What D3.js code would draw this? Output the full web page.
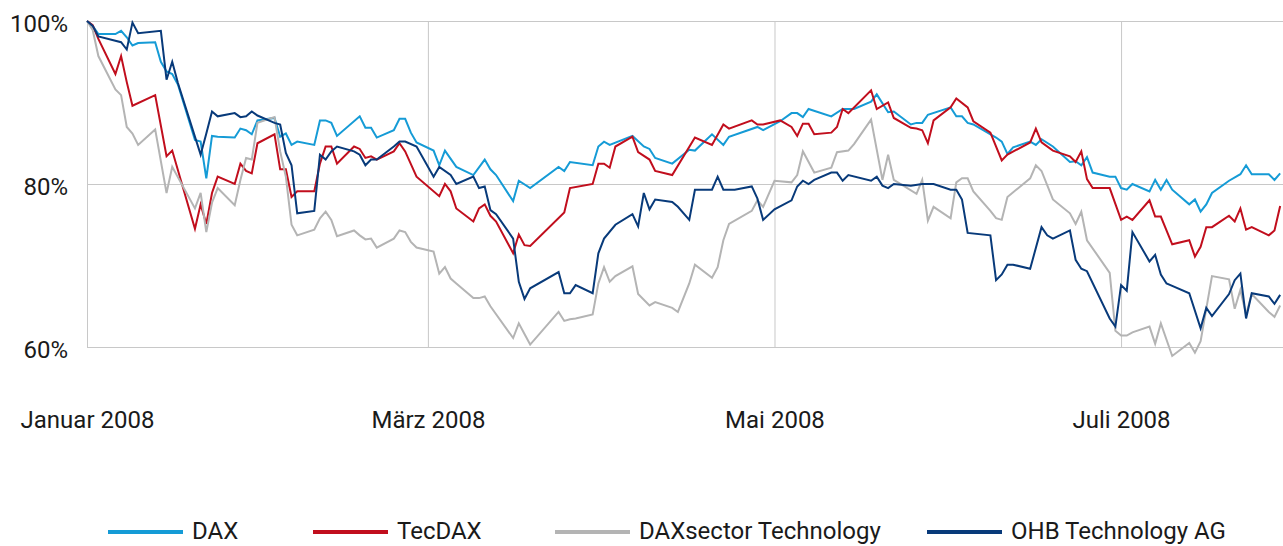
<!DOCTYPE html>
<html>
<head>
<meta charset="utf-8">
<script src="https://cdn.jsdelivr.net/npm/d3@7"></script>
<style>
body { margin: 0; background: #fff; }
text { font-family: Roboto, sans-serif; fill: #1a1a1a; }
</style>
</head>
<body>
<svg id="chart" width="1283" height="546"></svg>
<script>
// [days since 1 Jan 2008, index value in %]
var DAX = [[0,100],[1,99.4],[2,98.4],[5,98.4],[6,98.8],[7,98.0],[8,97.0],[9,97.3],[12,97.4],[13,95.0],[14,93.8],[15,93.5],[16,92.2],[19,85.4],[20,85.2],[21,80.7],[22,85.9],[23,85.8],[26,85.7],[27,86.8],[28,86.6],[29,86.1],[30,87.8],[33,88.1],[34,85.8],[35,86.2],[36,84.8],[37,85.2],[40,84.8],[41,87.8],[42,87.8],[43,87.5],[44,85.9],[48,88.3],[49,86.9],[50,86.9],[51,85.7],[54,86.6],[55,88.0],[56,88.0],[57,86.3],[58,85.1],[61,84.1],[62,82.3],[63,84.1],[65,82.1],[68,81.1],[70,83.0],[71,81.8],[72,81.1],[75,77.9],[76,80.4],[78,79.5],[83,82.1],[84,81.6],[85,82.7],[89,82.3],[90,84.6],[91,85.2],[92,84.8],[96,85.9],[98,84.6],[99,84.3],[100,83.2],[103,82.5],[106,84.2],[107,84.1],[110,86.1],[112,84.8],[113,85.8],[118,87.0],[119,86.6],[122,87.7],[124,88.7],[125,88.7],[126,88.2],[127,89.2],[131,88.3],[133,89.2],[135,89.2],[138,90.1],[139,91.0],[141,88.8],[142,88.9],[145,87.3],[146,87.5],[147,87.5],[148,88.5],[152,89.4],[153,88.3],[154,88.3],[155,87.5],[156,87.3],[160,85.7],[161,85.2],[162,83.7],[163,84.5],[166,85.2],[167,84.8],[168,85.5],[170,84.6],[173,82.7],[174,82.8],[175,82.3],[176,83.3],[177,81.4],[180,80.9],[181,80.9],[182,79.5],[183,79.3],[184,80.0],[187,79.1],[188,80.5],[189,79.3],[190,80.5],[191,79.3],[194,77.5],[195,78.1],[196,76.6],[197,77.5],[198,78.9],[201,80.4],[203,81.2],[204,82.3],[205,81.2],[208,81.2],[209,80.5],[210,81.3]];

var TECDAX = [[0,100],[1,99.5],[2,97.8],[5,93.5],[6,95.7],[7,92.5],[8,89.6],[12,90.9],[14,83.4],[15,84.1],[19,74.5],[20,77.5],[21,75.1],[22,78.9],[23,80.9],[26,80.0],[27,82.5],[28,81.6],[29,81.3],[30,85.0],[33,86.1],[34,81.8],[35,81.8],[36,78.4],[37,79.1],[40,79.1],[41,82.5],[42,84.6],[43,84.6],[44,82.5],[47,84.6],[48,84.3],[49,83.2],[50,83.4],[51,83.0],[54,84.0],[55,85.0],[56,84.0],[58,80.9],[62,78.5],[63,80.0],[64,79.1],[65,77.0],[68,75.4],[69,77.0],[70,77.5],[71,76.1],[72,75.4],[75,71.5],[76,73.8],[77,72.5],[78,72.4],[84,76.5],[85,79.5],[89,80.0],[90,82.5],[91,82.5],[92,82.0],[93,84.6],[96,85.8],[97,83.9],[99,83.0],[100,81.6],[103,81.1],[107,85.7],[110,84.8],[112,87.3],[113,86.8],[117,87.8],[118,87.3],[119,87.3],[122,87.8],[124,87.0],[125,85.9],[126,87.4],[127,87.4],[128,86.1],[131,86.3],[132,87.0],[133,89.2],[134,88.7],[138,91.5],[139,89.2],[141,90.0],[142,88.1],[145,86.9],[146,86.8],[147,86.6],[148,85.0],[149,87.8],[152,89.4],[153,90.5],[155,89.4],[156,87.7],[159,86.3],[161,82.9],[162,83.6],[166,85.1],[167,86.8],[168,85.1],[170,84.1],[173,83.4],[174,82.7],[175,84.0],[176,80.6],[177,79.5],[180,79.5],[182,75.6],[183,76.0],[184,75.6],[187,78.0],[188,76.0],[189,76.0],[191,72.6],[194,73.1],[195,71.1],[196,72.3],[197,74.7],[198,74.7],[201,76.1],[202,75.4],[203,77.0],[204,74.4],[205,74.7],[208,73.7],[209,74.3],[210,77.3]];

var DAXSECTOR = [[0,100],[1,98.9],[2,95.7],[5,91.6],[6,90.9],[7,87.0],[8,86.2],[9,84.8],[12,86.7],[14,78.9],[15,82.1],[19,77.0],[20,78.9],[21,74.1],[22,77.7],[23,79.5],[26,77.4],[27,80.5],[28,83.2],[29,83.0],[30,87.5],[33,88.2],[34,84.0],[35,80.9],[36,75.0],[37,73.7],[40,74.4],[41,75.8],[42,76.6],[43,75.6],[44,73.6],[47,74.3],[48,73.7],[49,73.2],[50,73.3],[51,72.2],[54,73.3],[55,74.3],[56,74.1],[57,72.9],[58,72.2],[61,71.7],[62,69.0],[63,69.8],[64,68.4],[65,67.8],[68,66.0],[69,66.0],[70,66.2],[71,65.0],[75,61.1],[76,62.9],[77,61.6],[78,60.3],[83,64.3],[84,63.2],[85,63.4],[86,63.5],[89,64.0],[90,67.8],[91,69.8],[92,68.0],[93,68.7],[96,69.9],[97,66.5],[99,65.1],[100,65.5],[103,64.8],[104,64.3],[106,67.8],[107,70.1],[110,68.5],[111,69.8],[112,73.1],[113,75.1],[117,76.7],[118,78.0],[119,77.2],[121,80.4],[124,80.2],[125,81.1],[126,84.0],[128,81.4],[131,82.0],[132,83.9],[134,84.1],[135,84.9],[138,87.9],[140,80.5],[141,83.6],[142,80.5],[146,78.8],[147,80.5],[148,75.5],[149,77.2],[152,75.8],[153,80.2],[154,80.7],[155,80.7],[156,79.1],[159,76.7],[160,75.8],[161,75.6],[162,78.4],[166,80.7],[167,82.3],[168,81.6],[170,78.1],[173,76.4],[174,75.1],[175,76.6],[176,73.1],[180,69.1],[181,62.0],[182,61.4],[183,61.4],[184,61.8],[187,62.5],[188,60.4],[189,62.9],[191,58.9],[194,60.5],[195,59.3],[196,60.7],[198,68.7],[201,68.3],[202,64.7],[203,67.0],[204,64.0],[205,66.5],[208,64.3],[209,63.7],[210,65.1]];

var OHB = [[0,100],[1,99.4],[2,98.1],[6,97.4],[7,96.5],[8,99.8],[9,98.5],[13,98.8],[14,92.8],[15,95.0],[16,92.4],[20,83.6],[21,86.2],[22,88.9],[23,88.3],[26,88.7],[27,88.2],[28,88.3],[29,88.9],[30,88.4],[33,87.5],[34,87.3],[35,83.8],[36,82.3],[37,76.4],[40,76.7],[41,83.6],[42,83.0],[43,84.0],[44,84.6],[47,84.0],[48,83.6],[49,82.3],[50,83.0],[51,83.0],[54,84.6],[55,85.2],[56,85.2],[58,84.6],[61,80.9],[62,82.1],[64,81.1],[65,80.0],[68,80.9],[69,79.5],[70,79.7],[71,76.8],[72,76.3],[75,73.3],[76,68.0],[77,65.9],[78,67.2],[83,69.2],[84,66.6],[85,66.6],[86,67.6],[89,66.6],[90,71.5],[91,73.3],[93,75.0],[96,76.3],[97,74.8],[98,78.9],[99,76.9],[100,78.1],[103,77.8],[104,77.2],[106,75.6],[107,79.3],[110,79.3],[111,80.9],[112,79.3],[114,79.3],[117,79.7],[118,78.2],[119,75.6],[121,76.9],[124,78.0],[125,79.7],[126,80.4],[127,80.0],[128,80.5],[131,81.4],[132,81.4],[133,80.4],[134,81.1],[138,80.4],[139,80.9],[140,79.8],[141,79.5],[142,80.0],[145,79.8],[147,80.0],[149,80.0],[152,79.3],[153,79.3],[154,78.1],[155,74.0],[159,73.7],[160,68.2],[161,68.9],[162,70.1],[163,70.1],[166,69.6],[168,74.7],[169,73.7],[170,73.3],[173,74.3],[174,70.7],[175,69.6],[176,69.3],[180,63.5],[181,62.5],[182,67.6],[183,66.9],[184,74.1],[187,70.5],[188,71.3],[189,68.9],[190,67.8],[191,67.5],[194,66.6],[196,62.3],[197,64.8],[198,63.8],[201,66.5],[202,68.2],[203,69.0],[204,63.5],[205,66.6],[208,66.2],[209,65.3],[210,66.4]];

var SERIES_NAMES = ['DAX', 'TecDAX', 'DAXsector Technology', 'OHB Technology AG'];
var Y_TICKS = [60, 80, 100];
var X_TICK_LABELS = ['Januar 2008', 'März 2008', 'Mai 2008', 'Juli 2008'];
var X_TICK_MONTHS = [0, 2, 4, 6];

var COLORS = ['#159bd6', '#c10e1d', '#b4b4b4', '#083a7a'];
var GRID = '#c8c8c8';
var FONT_SIZE = '24px';

var START = Date.UTC(2008, 0, 1);
function toDate(day){ return new Date(START + day * 864e5); }

var svg = d3.select('#chart');
var plotLeft = 87, plotRight = 1283, plotTop = 21, plotBottom = 347;

var x = d3.scaleUtc()
  .domain([toDate(0), toDate(210.5)])
  .range([plotLeft, plotRight]);

var y = d3.scaleLinear()
  .domain([60, 100])
  .range([plotBottom, plotTop]);

function drawAxes(){
  var yAxis = svg.append('g')
    .attr('transform', 'translate(' + plotLeft + ',0)')
    .call(d3.axisLeft(y)
      .tickValues(Y_TICKS)
      .tickSize(-(plotRight - plotLeft))
      .tickPadding(19)
      .tickFormat(function(d){ return d + '%'; }));
  yAxis.select('.domain').remove();
  yAxis.selectAll('line').attr('stroke', GRID);
  yAxis.selectAll('text')
    .attr('dy', '0.45em')
    .style('font-size', FONT_SIZE)
    .style('font-family', 'Roboto, sans-serif')
    .attr('fill', '#1a1a1a');

  var ticks = X_TICK_MONTHS.map(function(m){ return new Date(Date.UTC(2008, m, 1)); });
  var xAxis = svg.append('g')
    .attr('transform', 'translate(0,' + plotBottom + ')')
    .call(d3.axisBottom(x)
      .tickValues(ticks)
      .tickSize(-(plotBottom - plotTop))
      .tickPadding(64)
      .tickFormat(function(d, i){ return X_TICK_LABELS[i]; }));
  xAxis.select('.domain').remove();
  xAxis.selectAll('line').attr('stroke', GRID);
  xAxis.selectAll('text')
    .style('font-size', FONT_SIZE)
    .style('font-family', 'Roboto, sans-serif')
    .attr('fill', '#1a1a1a');
}

function drawLines(){
  var line = d3.line()
    .x(function(d){ return x(toDate(d[0])); })
    .y(function(d){ return y(d[1]); });

  var all = [DAX, TECDAX, DAXSECTOR, OHB];
  svg.append('g').selectAll('.series').data(all)
    .enter().append('path')
    .attr('class', 'series')
    .attr('fill', 'none')
    .attr('stroke', function(d, i){ return COLORS[i]; })
    .attr('stroke-width', 2)
    .attr('d', line);
}

function drawLegend(){
  var legendX = [108, 313, 555, 927];
  var ly = 532;
  var items = svg.append('g').selectAll('.item').data(SERIES_NAMES)
    .enter().append('g')
    .attr('class', 'item')
    .attr('transform', function(d, i){ return 'translate(' + legendX[i] + ',' + ly + ')'; });

  items.append('line')
    .attr('x1', 0).attr('x2', 75)
    .attr('stroke', function(d, i){ return COLORS[i]; })
    .attr('stroke-width', 4);

  items.append('text')
    .attr('x', 84)
    .attr('dy', '0.3em')
    .style('font-size', FONT_SIZE)
    .text(function(d){ return d; });
}

drawAxes();
drawLines();
drawLegend();
</script>
</body>
</html>
